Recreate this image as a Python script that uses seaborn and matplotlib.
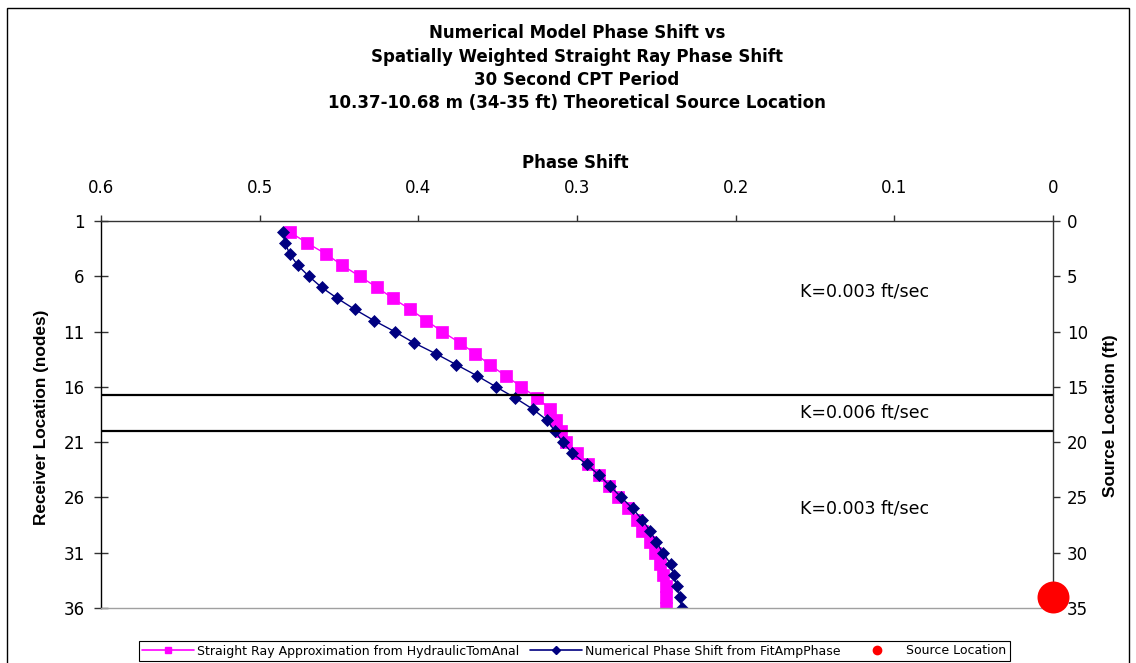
import matplotlib
matplotlib.use("Agg")
import matplotlib.pyplot as plt
from matplotlib.lines import Line2D
from matplotlib.patches import Rectangle
import seaborn as sns

# Chart text
title_lines = [
    "Numerical Model Phase Shift vs",
    "Spatially Weighted Straight Ray Phase Shift",
    "30 Second CPT Period",
    "10.37-10.68 m (34-35 ft) Theoretical Source Location",
]
legend_labels = [
    "Straight Ray Approximation from HydraulicTomAnal",
    "Numerical Phase Shift from FitAmpPhase",
    "Source Location",
]

# Receiver nodes (primary y axis)
receiver_nodes = list(range(2, 37))

# Phase shift values
straight_ray = [0.481, 0.470, 0.458, 0.448, 0.437, 0.426, 0.416, 0.405, 0.395, 0.385,
                0.374, 0.364, 0.355, 0.345, 0.335, 0.325, 0.317, 0.313, 0.310, 0.307,
                0.300, 0.293, 0.286, 0.280, 0.274, 0.268, 0.262, 0.259, 0.254, 0.251,
                0.248, 0.246, 0.244, 0.244, 0.244]
numerical = [0.485, 0.484, 0.481, 0.476, 0.469, 0.461, 0.451, 0.440, 0.428, 0.415,
             0.403, 0.389, 0.376, 0.363, 0.351, 0.339, 0.328, 0.319, 0.314, 0.309,
             0.303, 0.294, 0.286, 0.279, 0.272, 0.265, 0.259, 0.254, 0.250, 0.246,
             0.241, 0.239, 0.237, 0.235, 0.234]

# Source location (secondary y axis, ft)
source_phase = [0.0]
source_loc_ft = [34]

# Layer boundaries (ft) and conductivity labels
layer_bounds_ft = [15.75, 19.0]
layer_labels = ["K=0.003 ft/sec", "K=0.006 ft/sec", "K=0.003 ft/sec"]

phase_ticks = [0.6, 0.5, 0.4, 0.3, 0.2, 0.1, 0.0]
phase_tick_labels = ["0.6", "0.5", "0.4", "0.3", "0.2", "0.1", "0"]
node_ticks = [1, 6, 11, 16, 21, 26, 31, 36]
ft_ticks = [0, 5, 10, 15, 20, 25, 30, 35]

PINK = "#FF00FF"
NAVY = "#000080"
RED = "#FF0000"

sns.set_style("white")
plt.rcParams["font.family"] = ["DejaVu Sans"]
plt.rcParams["text.color"] = "black"
plt.rcParams["axes.labelcolor"] = "black"
plt.rcParams["xtick.color"] = "black"
plt.rcParams["ytick.color"] = "black"

W, H = 1136, 663
fig = plt.figure(figsize=(W / 100, H / 100), dpi=100)
ax = fig.add_axes([101 / W, 1 - 608 / H, 952 / W, 387 / H])
ax2 = ax.twinx()

# Series
sns.lineplot(x=straight_ray, y=receiver_nodes, ax=ax, sort=False, estimator=None,
             orient="y", color=PINK, marker="s", markersize=8, linewidth=1,
             markeredgecolor=PINK, markeredgewidth=0.5)
sns.lineplot(x=numerical, y=receiver_nodes, ax=ax, sort=False, estimator=None,
             orient="y", color=NAVY, marker="D", markersize=5.8, linewidth=1,
             markeredgecolor=NAVY, markeredgewidth=0.5)
sns.scatterplot(x=source_phase, y=source_loc_ft, ax=ax2, color=RED, s=530,
                linewidth=0, clip_on=False, zorder=5)

for b in layer_bounds_ft:
    ax2.axhline(b, color="black", linewidth=1.6)

# Axes limits / ticks
ax.set_xlim(0.6, 0.0)
ax.set_ylim(36, 1)
ax2.set_ylim(35, 0)

ax.xaxis.tick_top()
ax.set_xticks(phase_ticks)
ax.set_xticklabels(phase_tick_labels)
ax.set_yticks(node_ticks)
ax2.set_yticks(ft_ticks)

ax.tick_params(axis="x", top=True, bottom=False, direction="out", length=4,
               width=1, pad=13, labelsize=12, color="#333333", labelcolor="black")
ax.tick_params(axis="y", left=True, right=False, direction="inout", length=9.5,
               width=1, pad=7, labelsize=12, color="#333333", labelcolor="black")
ax2.tick_params(axis="y", right=True, left=False, direction="out", length=5,
                width=1, pad=5, labelsize=12, color="#333333", labelcolor="black")

for s in ["top", "bottom", "left", "right"]:
    ax2.spines[s].set_visible(False)
ax2.spines["right"].set_visible(True)
ax2.spines["right"].set_color("#333333")
ax.spines["right"].set_visible(False)
ax.spines["top"].set_color("#333333")
ax.spines["left"].set_color("black")
ax.spines["bottom"].set_color("#A0A0A0")
for s in ax.spines.values():
    s.set_linewidth(1)
ax2.spines["right"].set_linewidth(1)

# Axis labels
ax.xaxis.set_label_position("top")
ax.set_xlabel("Phase Shift", fontsize=12, fontweight="bold", color="black")
ax.xaxis.set_label_coords(0.498, 1.150)
ax.xaxis.label.set_verticalalignment("center")

ax.set_ylabel("Receiver Location (nodes)", fontsize=12.4, fontweight="bold",
              family=["Liberation Sans", "DejaVu Sans"], color="black")
ax.yaxis.set_label_coords(-0.062, 0.493)
ax.yaxis.label.set_verticalalignment("center")

ax2.set_ylabel("Source Location (ft)", fontsize=12.4, fontweight="bold",
               family=["Liberation Sans", "DejaVu Sans"], color="black")
ax2.yaxis.set_label_coords(1.060, 0.496)
ax2.yaxis.label.set_verticalalignment("center")

# Layer annotations
for lab, yf in zip(layer_labels, [0.819, 0.504, 0.258]):
    ax.text(0.8025, yf, lab, transform=ax.transAxes, ha="center", va="center",
            fontsize=12.5, color="black")

# Title
for line, yp in zip(title_lines, [33, 57, 80, 103]):
    fig.text(577 / W, 1 - yp / H, line, ha="center", va="center",
             fontsize=12, fontweight="bold", color="black")

# Legend
handles = [
    Line2D([], [], color=PINK, marker="s", markersize=5, linewidth=1.2),
    Line2D([], [], color=NAVY, marker="D", markersize=4, linewidth=1.2),
    Line2D([], [], color=RED, marker="o", markersize=6, linewidth=0),
]
leg = fig.legend(handles, legend_labels, loc="center",
                 bbox_to_anchor=(574 / W, 1 - 651 / H), ncol=3, fontsize=9,
                 frameon=True, fancybox=False, edgecolor="black", framealpha=1,
                 handlelength=4.2, handletextpad=0.25, columnspacing=0.8,
                 borderpad=0.25, borderaxespad=0)
leg.get_frame().set_linewidth(0.8)
for t in leg.get_texts():
    t.set_color("black")

# Outer chart border
fig.patches.append(Rectangle((7 / W, -0.01), (1129 - 7) / W, 1 - 8 / H + 0.01,
                             transform=fig.transFigure, fill=False,
                             edgecolor="black", linewidth=1))

fig.savefig("out.png", dpi=100)
